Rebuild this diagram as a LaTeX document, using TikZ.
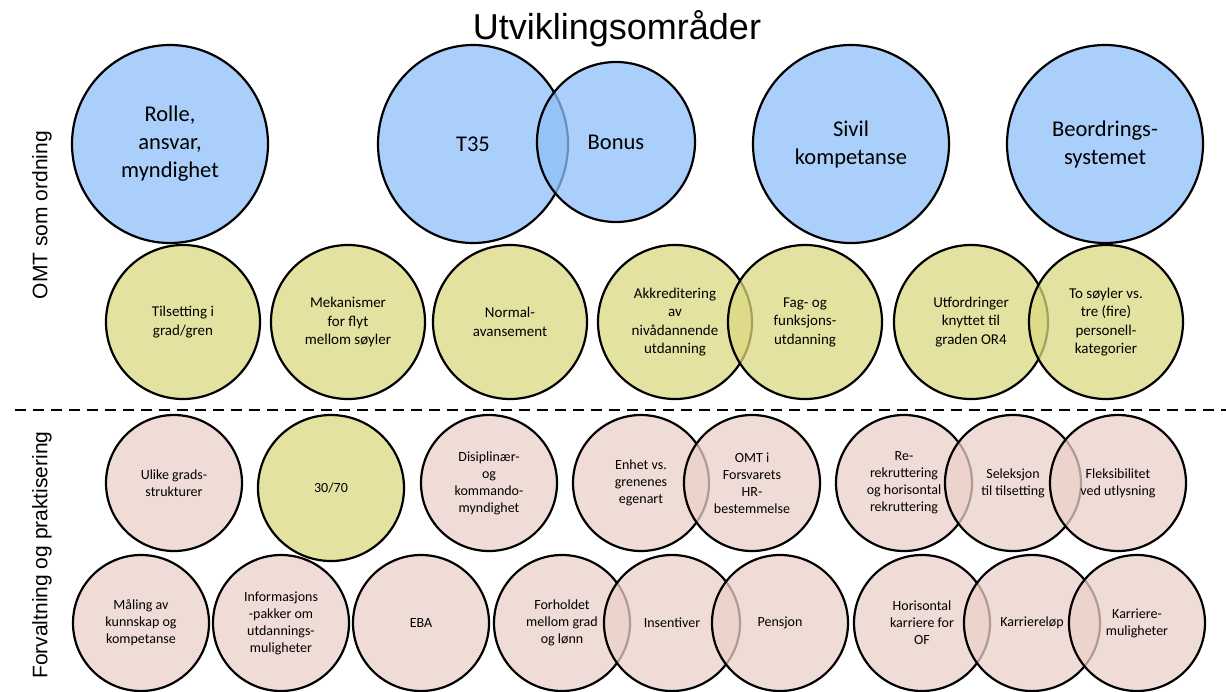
\documentclass[tikz,border=0pt]{standalone}
\usepackage{fontspec}
\setmainfont{Carlito}
\newfontfamily\arialfont{Liberation Sans}
\usetikzlibrary{shapes.geometric}
\definecolor{areaBlue}{RGB}{142,191,248}
\definecolor{areaYellow}{RGB}{219,216,128}
\definecolor{areaPink}{RGB}{235,208,200}
\tikzset{
  bubble/.style={ellipse, draw=black, line width=2.2pt, fill opacity=0.75,
    text opacity=1, draw opacity=1, inner sep=0pt, align=center},
  bigbub/.style={bubble, fill=areaBlue, font=\fontsize{22.5}{28}\selectfont},
  midbub/.style={bubble, fill=areaYellow, minimum width=154pt, minimum height=154pt,
    font=\fontsize{15}{18.5}\selectfont},
  smallbub/.style={bubble, fill=areaPink, minimum width=136pt, minimum height=136pt,
    font=\fontsize{14}{17}\selectfont},
  sidelabel/.style={rotate=90, font=\arialfont\fontsize{21}{21}\selectfont},
}
\begin{document}
\begin{tikzpicture}[x=1pt,y=-1pt]
\useasboundingbox (0,0) rectangle (1226,691);

% title
\node[font=\arialfont\fontsize{36}{36}\selectfont] (title) at (617,29) {Utviklingsområder};

% side labels
\node[sidelabel] (lblA) at (42,215) {OMT som ordning};
\node[sidelabel] (lblB) at (42,555) {Forvaltning og praktisering};

% separator
\coordinate (sepL) at (15,410);
\coordinate (sepR) at (1226,410);
\draw[line width=2.5pt, dash pattern=on 11pt off 7pt] (sepL) -- (sepR);

% row 1: main areas
\node[bigbub, minimum width=196pt, minimum height=198pt] (rolle) at (170,144) {Rolle,\\ansvar,\\myndighet};
\node[bigbub, minimum width=190pt, minimum height=198pt] (t35) at (473,144) {T35};
\node[bigbub, minimum width=158pt, minimum height=160pt] (bonus) at (616,142) {Bonus};
\node[bigbub, minimum width=196pt, minimum height=198pt] (sivil) at (851,144) {Sivil\\kompetanse};
\node[bigbub, minimum width=196pt, minimum height=198pt] (beord) at (1105,144) {Beordrings-\\systemet};

% row 2
\node[midbub] (tils) at (183,322) {Tilsetting i\\grad/gren};
\node[midbub] (mek) at (348,322) {Mekanismer\\for flyt\\mellom søyler};
\node[midbub] (norm) at (510,322) {Normal-\\avansement};
\node[midbub] (akk) at (675,322) {Akkreditering\\av\\nivådannende\\utdanning};
\node[midbub] (fag) at (805,322) {Fag- og\\funksjons-\\utdanning};
\node[midbub] (utf) at (971,322) {Utfordringer\\knyttet til\\graden OR4};
\node[midbub] (soyl) at (1106,322) {To søyler vs.\\tre (fire)\\personell-\\kategorier};

% row 3
\node[smallbub] (ulike) at (174,483) {Ulike grads-\\strukturer};
\node[smallbub, fill=areaYellow, minimum width=146pt, minimum height=146pt] (tretti) at (331,488) {30/70};
\node[smallbub] (disi) at (489,483) {Disiplinær-\\og\\kommando-\\myndighet};
\node[smallbub] (enhet) at (641,483) {Enhet vs.\\grenenes\\egenart};
\node[smallbub] (omthr) at (752,483) {OMT i\\Forsvarets\\HR-\\bestemmelse};
\node[smallbub] (rerek) at (904,483) {Re-\\rekruttering\\og horisontal\\rekruttering};
\node[smallbub] (sel) at (1013,483) {Seleksjon\\til tilsetting};
\node[smallbub] (fleks) at (1118,483) {Fleksibilitet\\ved utlysning};

% row 4
\node[smallbub] (maal) at (141,623) {Måling av\\kunnskap og\\kompetanse};
\node[smallbub] (info) at (281,623) {Informasjons\\-pakker om\\utdannings-\\muligheter};
\node[smallbub] (eba) at (421,623) {EBA};
\node[smallbub] (forh) at (562,623) {Forholdet\\mellom grad\\og lønn};
\node[smallbub] (insent) at (672,623) {Insentiver};
\node[smallbub] (pens) at (780,623) {Pensjon};
\node[smallbub] (horis) at (922,623) {Horisontal\\karriere for\\OF};
\node[smallbub] (karl) at (1032,623) {Karriereløp};
\node[smallbub] (karm) at (1137,623) {Karriere-\\muligheter};
\end{tikzpicture}
\end{document}
